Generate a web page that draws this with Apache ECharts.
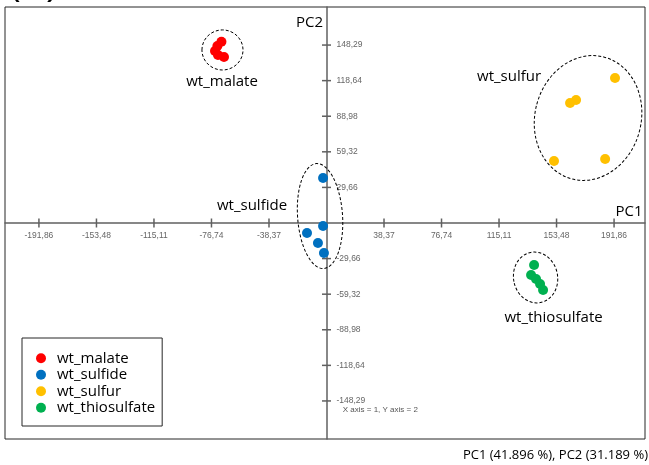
<!DOCTYPE html>
<html><head><meta charset="utf-8">
<script src="https://cdn.jsdelivr.net/npm/echarts@6/dist/echarts.min.js"></script>
<style>html,body{margin:0;padding:0;background:#fff}#c{width:649px;height:465px}</style>
</head><body><div id="c"></div>
<script>
// ---- data ----
const seriesNames = ['wt_malate', 'wt_sulfide', 'wt_sulfur', 'wt_thiosulfate'];
const malate = [[-70.1, 151], [-72.8, 147.5], [-74.4, 143.3], [-72.4, 140], [-68.4, 138.3]];
const sulfide = [[-2.3, 37.5], [-2.3, -2.5], [-13, -8.3], [-5.7, -16.7], [-1.7, -25]];
const sulfur = [[192.5, 120.8], [166.5, 102.5], [162.5, 100], [151.8, 51.7], [185.9, 53.3]];
const thiosulfate = [[138.5, -35], [136.5, -43.3], [139.8, -46.7], [142.5, -50.8], [144.5, -55.8]];
const xTicks = [-191.86, -153.48, -115.11, -76.74, -38.37, 38.37, 76.74, 115.11, 153.48, 191.86];
const yTicks = [-148.29, -118.64, -88.98, -59.32, -29.66, 29.66, 59.32, 88.98, 118.64, 148.29];
// group outlines: centre x, centre y, half width, half height (data units), tilt (deg)
const groupEllipses = [[-69.4, 144.2, 13.7, 16.7, 0], [-4.3, 5.8, 15, 43.8, 4], [174.5, 87.5, 35.4, 52.5, -15], [139.5, -45.4, 14.7, 21.3, 11]];
const labelTexts = ['wt_malate', 'wt_sulfur', 'wt_sulfide', 'wt_thiosulfate', 'PC2', 'PC1'];
const labelPos = [[-69.7, 117.5], [121.8, 121.7], [-49.7, 14.4], [151.5, -79.2], [-11.3, 166.7], [201.9, 9.2]];
const noteText = ['X axis = 1, Y axis = 2'];
const notePos = [[35.9, -155.8]];
const footerText = 'PC1 (41.896 %), PC2 (31.189 %)';

// ---- chart ----
const colors = ['#FF0000', '#0070C0', '#FFC000', '#00B050'];
const axisColor = '#606060';
const fmt = v => v.toFixed(2).replace('.', ',');
const chart = echarts.init(document.getElementById('c'));

const pointSets = [malate, sulfide, sulfur, thiosulfate];
const scatterSeries = pointSets.map((d, i) => ({
  name: seriesNames[i], type: 'scatter', data: d, symbol: 'circle', symbolSize: 10,
  itemStyle: { color: colors[i], opacity: 1 }, z: 5
}));

// tick marks and tick labels placed at the tick values through the axes' scales
const tickData = xTicks.map(v => [v, 0, 0]).concat(yTicks.map(v => [0, v, 1]));
const tickLabels = xTicks.concat(yTicks).map(fmt);

chart.setOption({
  animation: false,
  color: colors,
  grid: { left: 5, top: 7, width: 640, height: 432, show: true, borderColor: '#262626', borderWidth: 1, backgroundColor: 'transparent' },
  xAxis: {
    type: 'value', min: -214.5, max: 212.5,
    axisLine: { show: true, onZero: true, lineStyle: { color: axisColor, width: 1.5 } },
    axisTick: { show: false }, axisLabel: { show: false }, splitLine: { show: false }
  },
  yAxis: {
    type: 'value', min: -180, max: 180,
    axisLine: { show: true, onZero: true, lineStyle: { color: axisColor, width: 1.5 } },
    axisTick: { show: false }, axisLabel: { show: false }, splitLine: { show: false }
  },
  legend: {
    data: seriesNames, orient: 'vertical', left: 22, top: 338, icon: 'circle',
    itemWidth: 22, itemHeight: 10, itemGap: 0, padding: [12, 7, 10, 14],
    borderColor: '#262626', borderWidth: 1, backgroundColor: '#fff',
    textStyle: { fontFamily: 'Open Sans', fontSize: 15, color: '#000', lineHeight: 16.5 }
  },
  graphic: [
    { type: 'text', right: 1, top: 449, style: { text: footerText, fontFamily: 'Open Sans', fontSize: 13, fill: '#000' } },
    { type: 'text', x: 9, y: 5, style: { text: '(A)', fontFamily: 'Open Sans', fontSize: 40, fill: '#000', verticalAlign: 'bottom' } }
  ],
  series: scatterSeries.concat([
    {
      type: 'custom', silent: true, clip: false, z: 2, data: tickData,
      renderItem: (params, api) => {
        const p = api.coord([api.value(0), api.value(1)]);
        const vert = api.value(2) === 0;
        return {
          type: 'group',
          children: [
            {
              type: 'line',
              shape: vert ? { x1: p[0], y1: p[1] - 4.5, x2: p[0], y2: p[1] + 4.5 } : { x1: p[0] - 4.5, y1: p[1], x2: p[0] + 4.5, y2: p[1] },
              style: { stroke: axisColor, lineWidth: 1.5 }
            },
            {
              type: 'text', x: vert ? p[0] : p[0] + 10, y: vert ? p[1] + 12.5 : p[1],
              style: { text: tickLabels[params.dataIndex], fontFamily: 'Liberation Sans', fontSize: 8.5, fill: '#666', align: vert ? 'center' : 'left', verticalAlign: 'middle' }
            }
          ]
        };
      }
    },
    {
      type: 'custom', silent: true, clip: false, z: 3, data: groupEllipses,
      renderItem: (params, api) => {
        const c = api.coord([api.value(0), api.value(1)]);
        const s = api.size([api.value(2), api.value(3)]);
        return {
          type: 'ellipse', x: c[0], y: c[1], rotation: api.value(4) * Math.PI / 180,
          shape: { cx: 0, cy: 0, rx: s[0], ry: s[1] },
          style: { fill: 'none', stroke: '#000', lineWidth: 1, lineDash: [3, 2] }
        };
      }
    },
    {
      type: 'custom', silent: true, clip: false, z: 6, data: labelPos,
      renderItem: (params, api) => {
        const p = api.coord([api.value(0), api.value(1)]);
        return {
          type: 'text', x: p[0], y: p[1],
          style: { text: labelTexts[params.dataIndex], fontFamily: 'Open Sans', fontSize: 15, fill: '#000', align: 'center', verticalAlign: 'middle' }
        };
      }
    },
    {
      type: 'custom', silent: true, clip: false, z: 6, data: notePos,
      renderItem: (params, api) => {
        const p = api.coord([api.value(0), api.value(1)]);
        return {
          type: 'text', x: p[0], y: p[1],
          style: { text: noteText[params.dataIndex], fontFamily: 'Liberation Sans', fontSize: 8, fill: '#555', align: 'center', verticalAlign: 'middle' }
        };
      }
    }
  ])
});
</script></body></html>
